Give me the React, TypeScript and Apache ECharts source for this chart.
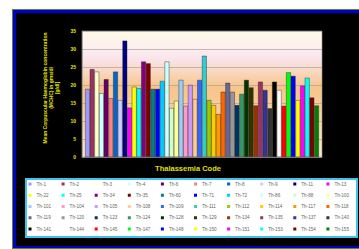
import React, { useEffect, useRef } from "react";
import * as echarts from "echarts";

const codes = [
  "Th-1", "Th-2", "Th-3", "Th-4", "Th-6", "Th-7", "Th-8", "Th-9", "Th-11", "Th-13",
  "Th-22", "Th-25", "Th-34", "Th-35", "Th-60", "Th-71", "Th-72", "Th-86", "Th-88", "Th-100",
  "Th-101", "Th-104", "Th-105", "Th-108", "Th-109", "Th-111", "Th-112", "Th-114", "Th-117", "Th-118",
  "Th-119", "Th-120", "Th-123", "Th-124", "Th-128", "Th-129", "Th-134", "Th-135", "Th-137", "Th-140",
  "Th-141", "Th-144", "Th-145", "Th-147", "Th-148", "Th-150", "Th-151", "Th-153", "Th-154", "Th-155",
];

const values = [
  18.9, 24.4, 23.7, 17.7, 21.6, 16.3, 23.7, 15.8, 32.3, 13.7,
  19.5, 19.1, 26.5, 26.0, 18.9, 18.9, 21.1, 26.5, 13.6, 15.6,
  21.4, 14.2, 20.0, 16.1, 21.4, 28.1, 15.8, 14.4, 11.9, 18.1,
  20.6, 18.1, 14.4, 17.5, 21.4, 19.3, 14.3, 20.9, 18.6, 13.5,
  20.9, 18.6, 14.2, 23.5, 22.5, 15.8, 19.8, 22.0, 16.5, 14.3,
];

const yTicks = [0, 5, 10, 15, 20, 25, 30, 35];

const palette = [
  "#9999FF", "#993366", "#FFFFCC", "#CCFFFF", "#660066", "#FF8080", "#0066CC", "#CCCCFF", "#000080", "#FF00FF",
  "#FFFF00", "#00FFFF", "#800080", "#800000", "#008080", "#0000FF", "#00CCFF", "#CCFFFF", "#CCFFCC", "#FFFF99",
  "#99CCFF", "#FF99CC", "#CC99FF", "#FFCC99", "#3366FF", "#33CCCC", "#99CC00", "#FFCC00", "#FF9900", "#FF6600",
  "#666699", "#969696", "#003366", "#339966", "#003300", "#333300", "#993300", "#993366", "#333399", "#333333",
  "#000000", "#FFFFFF", "#FF0000", "#00FF00", "#0000FF", "#FFFF00", "#FF00FF", "#00FFFF", "#800000", "#008000",
];

const yTitle = "Mean Corpuscular Haemoglobin concentration\n(MCHC) in gms/dl\n[g/dl]";
const xTitle = "Thalassemia Code";

export default function App() {
  const ref = useRef<HTMLDivElement>(null);

  useEffect(() => {
    if (!ref.current) return;
    const chart = echarts.init(ref.current, undefined, { renderer: "svg" });
    const cols = 10;
    const rows = 5;
    const legends = Array.from({ length: cols }, (_, c) => ({
      show: true,
      orient: "vertical",
      left: 28.5 + c * 33.1,
      top: 181,
      padding: 0,
      itemWidth: 3,
      itemHeight: 3,
      itemGap: 5.25,
      icon: "rect",
      selectedMode: false,
      z: 10,
      data: Array.from({ length: rows }, (_, r) => codes[r * cols + c]),
      itemStyle: { borderWidth: 0 },
      textStyle: {
        fontSize: 4.6,
        lineHeight: 6,
        color: "#666",
        fontFamily: "Liberation Sans, Arial, sans-serif",
      },
    }));
    chart.setOption({
      animation: false,
      backgroundColor: "transparent",
      grid: {
        left: 82,
        top: 31,
        width: 240,
        height: 126,
        show: true,
        borderColor: "#999",
        borderWidth: 0.6,
        backgroundColor: {
          type: "linear",
          x: 0,
          y: 0,
          x2: 0,
          y2: 1,
          colorStops: [
            { offset: 0, color: "#fff9e6" },
            { offset: 0.12, color: "#fdf1ee" },
            { offset: 0.22, color: "#fae4ec" },
            { offset: 0.32, color: "#f9d8c0" },
            { offset: 0.45, color: "#f8c48a" },
            { offset: 0.6, color: "#f9cc98" },
            { offset: 0.8, color: "#fbdab2" },
            { offset: 1, color: "#fde6c8" },
          ],
        },
      },
      legend: legends,
      xAxis: {
        type: "category",
        data: [xTitle],
        axisLabel: { show: false },
        axisTick: { show: false },
        axisLine: { lineStyle: { color: "#888", width: 0.6 } },
      },
      yAxis: {
        type: "value",
        min: yTicks[0],
        max: yTicks[yTicks.length - 1],
        interval: yTicks[1] - yTicks[0],
        axisLine: { show: true, lineStyle: { color: "#888", width: 0.6 } },
        axisTick: { show: false },
        splitLine: { lineStyle: { color: "#a8a0a0", width: 0.7 } },
        axisLabel: {
          color: "#e6e600",
          fontSize: 5,
          fontWeight: "bold",
          margin: 6,
          fontFamily: "Liberation Sans, Arial, sans-serif",
        },
      },
      series: codes.map((name, i) => ({
        type: "bar",
        name,
        data: [values[i]],
        barGap: "0%",
        barCategoryGap: "2.6%",
        itemStyle: { color: palette[i], borderColor: "#222", borderWidth: 0.4 },
      })),
      graphic: [
        {
          type: "text",
          x: 41.5,
          y: 88,
          rotation: Math.PI / 2,
          style: {
            text: yTitle,
            align: "center",
            verticalAlign: "top",
            fill: "#e6e600",
            fontSize: 5,
            lineHeight: 6,
            fontWeight: "bold",
            fontFamily: "Liberation Sans, Arial, sans-serif",
          },
        },
        {
          type: "text",
          x: 188,
          y: 168,
          style: {
            text: xTitle,
            align: "center",
            verticalAlign: "middle",
            fill: "#e0e000",
            fontSize: 7.5,
            fontWeight: "bold",
            fontFamily: "Liberation Sans, Arial, sans-serif",
          },
        },
      ],
    });
    return () => chart.dispose();
  }, []);

  return (
    <div
      style={{
        position: "absolute",
        left: 0,
        top: 0,
        width: 359,
        height: 249,
        overflow: "hidden",
        background: "#ffffff",
      }}
    >
      <div style={{ position: "absolute", left: 12, top: 9, width: 400, height: 240, background: "#5a8a28" }}>
        <div style={{ position: "absolute", left: 1, top: 1, width: 399, height: 238, background: "#0000cc" }}>
          <div style={{ position: "absolute", left: 2.5, top: 2.5, width: 396, height: 233, background: "#000000" }} />
        </div>
      </div>
      <div
        style={{
          position: "absolute",
          left: 25,
          top: 178,
          width: 333,
          height: 60,
          boxSizing: "border-box",
          background: "#ffffff",
          border: "2px solid #3cc4ee",
        }}
      />
      <div ref={ref} style={{ position: "absolute", left: 0, top: 0, width: 359, height: 249 }} />
    </div>
  );
}
